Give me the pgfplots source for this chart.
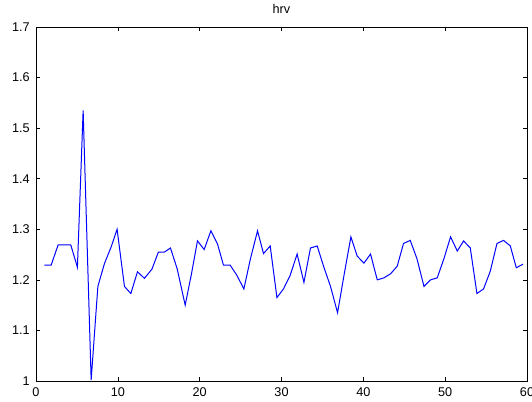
\documentclass[border=0pt]{standalone}
\usepackage{fontspec}
\setmainfont{Liberation Sans}
\usepackage{pgfplots}
\pgfplotsset{compat=1.18}

% hrv series
\pgfplotstableread{
x y
1.03 1.229
1.85 1.229
2.70 1.269
3.47 1.269
4.25 1.269
5.06 1.225
5.76 1.535
6.74 1.002
7.56 1.187
8.36 1.232
9.18 1.265
9.91 1.300
10.81 1.187
11.59 1.173
12.40 1.216
13.25 1.203
14.16 1.221
14.96 1.255
15.70 1.255
16.43 1.263
17.25 1.222
18.23 1.150
19.00 1.212
19.73 1.277
20.55 1.260
21.37 1.297
22.18 1.271
22.91 1.229
23.73 1.229
24.55 1.209
25.40 1.182
26.21 1.242
27.07 1.297
27.80 1.252
28.62 1.267
29.44 1.165
30.24 1.182
31.06 1.209
31.91 1.251
32.74 1.195
33.54 1.263
34.36 1.267
35.18 1.225
35.99 1.187
36.85 1.135
37.67 1.212
38.48 1.285
39.25 1.247
40.07 1.233
40.88 1.251
41.70 1.200
42.52 1.204
43.33 1.212
44.14 1.227
44.91 1.272
45.73 1.278
46.55 1.242
47.41 1.187
48.21 1.200
49.03 1.204
49.85 1.242
50.66 1.285
51.48 1.257
52.25 1.277
53.07 1.263
53.88 1.173
54.69 1.182
55.51 1.217
56.33 1.272
57.14 1.278
57.96 1.267
58.69 1.224
59.51 1.231
}\hrvdata

\begin{document}
\begin{tikzpicture}
\begin{axis}[
  scale only axis,
  width=368.25pt,height=265.5pt,
  xmin=0,xmax=60,ymin=1,ymax=1.7,
  xtick={0,10,20,30,40,50,60},
  ytick={1,1.1,1.2,1.3,1.4,1.5,1.6,1.7},
  yticklabels={1,1.1,1.2,1.3,1.4,1.5,1.6,1.7},
  /pgf/number format/assume math mode=true,
  tick align=inside,
  major tick length=3pt,
  tick style={black,line width=0.5pt},
  axis line style={black,line width=0.6pt},
  tick label style={font=\fontsize{9.5}{11}\selectfont,inner sep=0pt},
  yticklabel style={xshift=-4.5pt},
  xticklabel style={yshift=-5pt},
  title={hrv},
  title style={font=\fontsize{9.5}{11}\selectfont,at={(0.5,1)},
    anchor=south,inner sep=0pt,yshift=3.75pt},
]
\addplot[blue,line width=0.75pt,mark=none] table[x=x,y=y] {\hrvdata};
\coordinate (sw) at (rel axis cs:0,0);
\coordinate (ne) at (rel axis cs:1,1);
\end{axis}
\pgfresetboundingbox
\path ([shift={(-27pt,-15pt)}]sw) rectangle ([shift={(3.75pt,20.25pt)}]ne);
\end{tikzpicture}
\end{document}
